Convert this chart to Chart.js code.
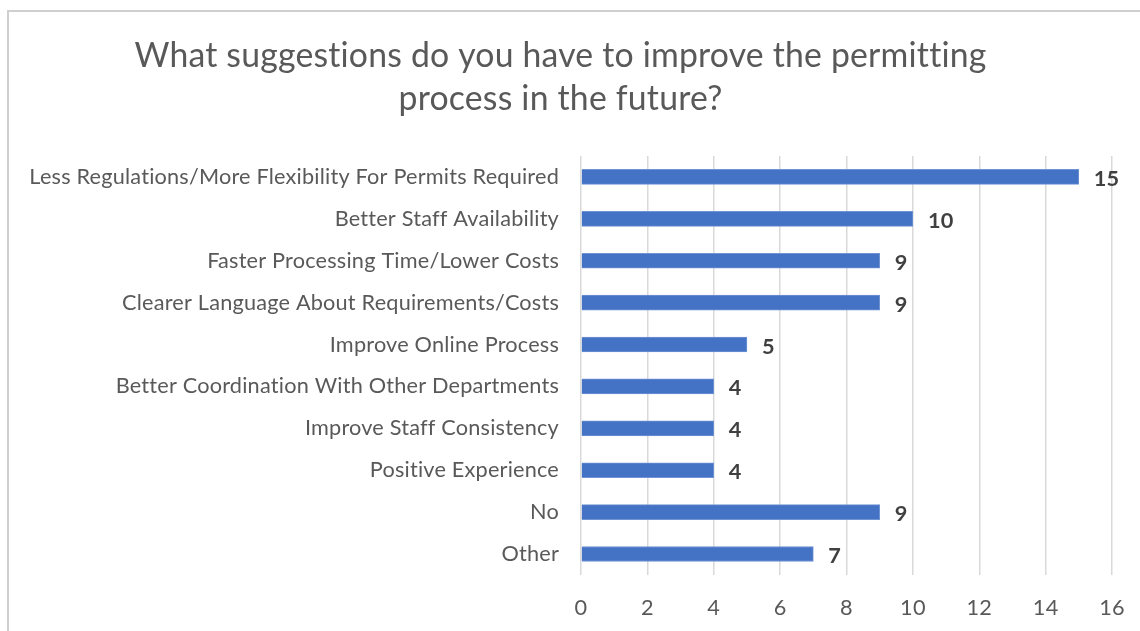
<!DOCTYPE html>
<html>
<head>
<meta charset="utf-8">
<script src="https://cdn.jsdelivr.net/npm/chart.js@4/dist/chart.umd.min.js"></script>
<style>
  html, body { margin: 0; padding: 0; background: #ffffff; overflow: hidden; }
  #frame { position: absolute; left: 7px; top: 10px; width: 1146px; height: 640px; border: 2px solid #cfcfcf; background: #fff; }
  #c { display: block; }
</style>
</head>
<body>
<div id="frame"><canvas id="c" width="1146" height="640"></canvas></div>
<script>
const titleLines = ["What suggestions do you have to improve the permitting", "process in the future?"];
const categories = [
  "Less Regulations/More Flexibility For Permits Required",
  "Better Staff Availability",
  "Faster Processing Time/Lower Costs",
  "Clearer Language About Requirements/Costs",
  "Improve Online Process",
  "Better Coordination With Other Departments",
  "Improve Staff Consistency",
  "Positive Experience",
  "No",
  "Other"
];
const values = [15, 10, 9, 9, 5, 4, 4, 4, 9, 7];
const xTicks = [0, 2, 4, 6, 8, 10, 12, 14, 16];

const FONT = "Lato, 'Open Sans', sans-serif";
const SPACING = '0.2px';
const mctx = document.createElement('canvas').getContext('2d');
function fitSize(text, target, weight) {
  mctx.letterSpacing = SPACING;
  mctx.font = (weight || '') + ' 20px ' + FONT;
  return 20 * target / mctx.measureText(text).width;
}
const labelSize = fitSize(categories[0], 531);
const titleSize = fitSize(titleLines[0], 860);

const spacingPlugin = {
  id: 'spacing',
  beforeDraw(chart) { chart.ctx.letterSpacing = SPACING; }
};

const dataLabels = {
  id: 'dataLabels',
  afterDatasetsDraw(chart) {
    const ctx = chart.ctx;
    const meta = chart.getDatasetMeta(0);
    ctx.save();
    ctx.font = 'bold ' + labelSize.toFixed(2) + 'px ' + FONT;
    ctx.fillStyle = '#404040';
    ctx.textAlign = 'left';
    ctx.textBaseline = 'middle';
    meta.data.forEach((bar, i) => {
      ctx.fillText(String(values[i]), bar.x + 15, bar.y + 2);
    });
    ctx.restore();
  }
};

new Chart(document.getElementById('c'), {
  type: 'bar',
  data: {
    labels: categories,
    datasets: [{
      data: values,
      backgroundColor: '#4472C4',
      borderColor: '#6f93d3',
      borderWidth: 1,
      barThickness: 15
    }]
  },
  options: {
    indexAxis: 'y',
    responsive: false,
    animation: false,
    layout: { padding: { left: 0, right: 43, top: 0, bottom: 11 } },
    plugins: {
      legend: { display: false },
      tooltip: { enabled: false },
      title: {
        display: true,
        text: titleLines,
        color: '#595959',
        font: { family: FONT, size: titleSize, weight: 'normal', lineHeight: 43 / titleSize },
        padding: { top: 23, bottom: 35 }
      }
    },
    scales: {
      x: {
        min: 0,
        max: 16,
        afterBuildTicks(scale) { scale.ticks = xTicks.map(v => ({ value: v })); },
        grid: { color: '#d9d9d9', lineWidth: 1.5, drawTicks: false },
        border: { display: false },
        ticks: { color: '#595959', font: { family: FONT, size: labelSize }, padding: 20 }
      },
      y: {
        grid: { display: false, drawTicks: false },
        border: { display: false },
        afterFit(scale) { scale.width = 572; },
        ticks: { color: '#595959', font: { family: FONT, size: labelSize }, padding: 22, autoSkip: false }
      }
    }
  },
  plugins: [spacingPlugin, dataLabels]
});
</script>
</body>
</html>
